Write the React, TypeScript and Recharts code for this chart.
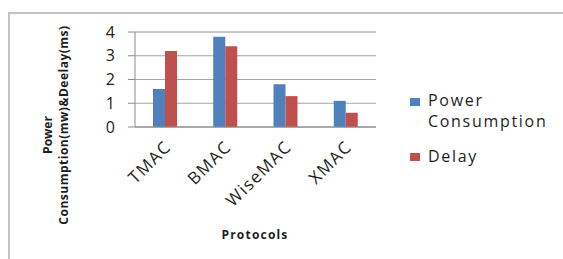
import React from 'react';
import {
  BarChart,
  Bar,
  XAxis,
  YAxis,
  CartesianGrid,
} from 'recharts';

const CATEGORIES = ['TMAC', 'BMAC', 'WiseMAC', 'XMAC'];
const POWER_CONSUMPTION = [1.6, 3.8, 1.8, 1.1];
const DELAY = [3.2, 3.4, 1.3, 0.6];
const Y_TICKS = [0, 1, 2, 3, 4];
const MINOR_TICKS = [0, 0.2, 0.4, 0.6, 0.8, 1, 1.2, 1.4, 1.6, 1.8, 2, 2.2, 2.4, 2.6, 2.8, 3, 3.2, 3.4, 3.6, 3.8, 4];

const BLUE = '#4F81BD';
const RED = '#C0504D';
const TEXT = '#1e1e1e';
const FONT = '"Open Sans", sans-serif';

const chartData = CATEGORIES.map((name, i) => ({
  name,
  power: POWER_CONSUMPTION[i],
  delay: DELAY[i],
}));

const XTick = (props: any) => {
  const { x, y, payload } = props;
  const ax = x + 7;
  const ay = y + 13;
  return (
    <text
      x={ax}
      y={ay}
      transform={`rotate(-45, ${ax}, ${ay})`}
      textAnchor="end"
      fontSize={17}
      fill={TEXT}
      fontFamily={FONT}
      letterSpacing={1.4}
    >
      {payload.value}
    </text>
  );
};

const YLabel = () => (
  <g fontFamily={FONT} fontWeight="bold" fontSize={12} fill={TEXT}>
    <text x={52} y={135} transform="rotate(-90, 52, 135)" textAnchor="middle">
      Power
    </text>
    <text x={68} y={125} transform="rotate(-90, 68, 125)" textAnchor="middle" letterSpacing={0.5}>
      Consumption(mw)&amp;Deelay(ms)
    </text>
  </g>
);

const XLabel = () => (
  <text
    x={255}
    y={239}
    textAnchor="middle"
    fontFamily={FONT}
    fontWeight="bold"
    fontSize={12}
    letterSpacing={1.2}
    fill={TEXT}
  >
    Protocols
  </text>
);

const legendText: React.CSSProperties = {
  position: 'absolute',
  left: 20,
  whiteSpace: 'nowrap',
  height: 20,
  lineHeight: '20px',
};

const ChartLegend = () => (
  <div
    style={{
      position: 'absolute',
      left: 408,
      top: 90,
      width: 155,
      height: 80,
      fontFamily: FONT,
      fontSize: 16,
      letterSpacing: 1.7,
      color: TEXT,
    }}
  >
    <span style={{ position: 'absolute', left: 2, top: 8, width: 10, height: 8, backgroundColor: BLUE }} />
    <div style={{ ...legendText, top: 0 }}>Power</div>
    <div style={{ ...legendText, top: 20.5 }}>Consumption</div>
    <span style={{ position: 'absolute', left: 2, top: 63, width: 10, height: 8, backgroundColor: RED }} />
    <div style={{ ...legendText, top: 56 }}>Delay</div>
  </div>
);

export default function App() {
  return (
    <div style={{ position: 'absolute', left: 0, top: 0, width: 563, height: 259, background: '#fff', overflow: 'hidden' }}>
      <div
        style={{
          position: 'absolute',
          left: 8,
          top: 12,
          width: 600,
          height: 300,
          borderLeft: '2px solid #c4c4c4',
          borderTop: '2px solid #c4c4c4',
        }}
      />
      <BarChart
        width={563}
        height={259}
        data={chartData}
        margin={{ top: 32, right: 187, bottom: 0, left: 0 }}
        barGap={0}
        barSize={12}
      >
        {/* minor gridlines come from an invisible axis with 0.2 steps */}
        <CartesianGrid yAxisId="minor" vertical={false} stroke="#d4d4d4" />
        <CartesianGrid vertical={false} stroke="#a6a6a6" />
        <XAxis
          dataKey="name"
          height={132}
          tick={<XTick />}
          tickLine={false}
          axisLine={{ stroke: '#8c8c8c' }}
          interval={0}
          label={<XLabel />}
        />
        <YAxis
          width={135}
          domain={[0, 4]}
          ticks={Y_TICKS}
          interval={0}
          tickSize={7}
          tickMargin={13}
          tick={{ fill: TEXT, fontSize: 16, fontFamily: FONT }}
          tickLine={{ stroke: '#8c8c8c' }}
          axisLine={{ stroke: '#8c8c8c' }}
          label={<YLabel />}
        />
        <YAxis
          yAxisId="minor"
          width={0}
          domain={[0, 4]}
          ticks={MINOR_TICKS}
          interval={0}
          tick={false}
          tickLine={false}
          axisLine={false}
        />
        <Bar dataKey="power" name="Power Consumption" fill={BLUE} isAnimationActive={false} />
        <Bar dataKey="delay" name="Delay" fill={RED} isAnimationActive={false} />
      </BarChart>
      <ChartLegend />
    </div>
  );
}
